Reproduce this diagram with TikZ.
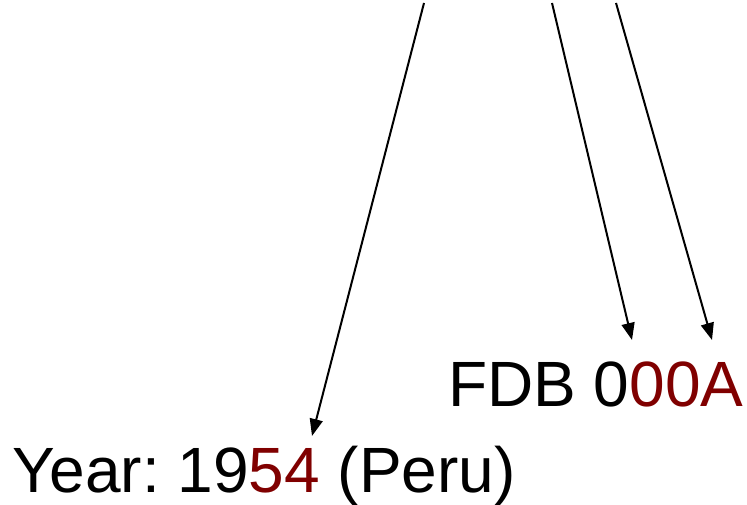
\documentclass[tikz,border=0pt]{standalone}
\usepackage{fontspec}
\setmainfont{Liberation Sans}
\usetikzlibrary{arrows.meta}
\definecolor{darkred}{HTML}{800000}
\frenchspacing
\begin{document}
\begin{tikzpicture}[x=1pt,y=1pt,
  lbl/.style={inner sep=0pt,anchor=base west,font=\fontsize{64}{70}\selectfont},
  conn/.style={line width=2pt,-{Triangle[length=17pt,width=13pt]}}]
\useasboundingbox (0,0) rectangle (747,505);
\node[lbl] (year) at (12.5,12.5) {Year: 19\textcolor{darkred}{54} (Peru)};
\node[lbl] (fdb) at (448,98) {FDB 0\textcolor{darkred}{00A}};
\coordinate (s1) at (424,502);
\coordinate (s2) at (552,502);
\coordinate (s3) at (616,502);
\coordinate (t1) at (312,69);
\coordinate (t2) at (632,165);
\coordinate (t3) at (712,165);
\draw[conn] (s1) -- (t1);
\draw[conn] (s2) -- (t2);
\draw[conn] (s3) -- (t3);
\end{tikzpicture}
\end{document}
